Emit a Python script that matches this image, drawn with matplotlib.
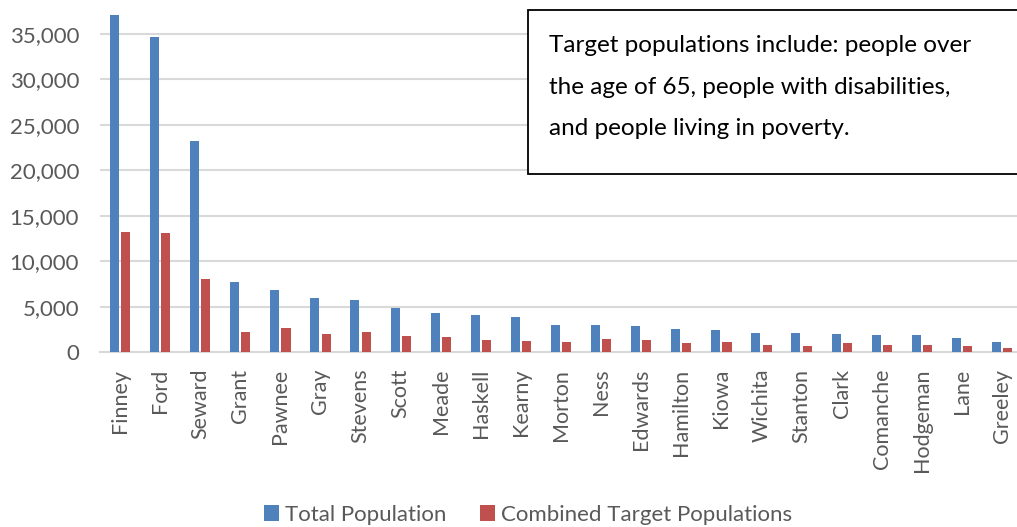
import numpy as np
import matplotlib
matplotlib.use("Agg")
import matplotlib.pyplot as plt
from matplotlib.ticker import FuncFormatter
from matplotlib.patches import Rectangle

counties = ["Finney", "Ford", "Seward", "Grant", "Pawnee", "Gray", "Stevens", "Scott",
            "Meade", "Haskell", "Kearny", "Morton", "Ness", "Edwards", "Hamilton", "Kiowa",
            "Wichita", "Stanton", "Clark", "Comanche", "Hodgeman", "Lane", "Greeley"]
total_pop = [37100, 34650, 23210, 7730, 6820, 5970, 5720, 4840, 4290, 4030, 3850, 3000,
             2970, 2860, 2490, 2450, 2120, 2090, 2010, 1900, 1830, 1570, 1130]
target_pop = [13200, 13090, 8060, 2200, 2600, 2010, 2230, 1720, 1610, 1350, 1240, 1100,
              1460, 1320, 950, 1130, 770, 620, 950, 800, 730, 660, 440]

plt.rcParams['font.family'] = ['Lato', 'DejaVu Sans']

blue = '#4f81bd'
red = '#c0504d'
grey_txt = '#595959'

fig = plt.figure(figsize=(10.17, 5.27), dpi=100)
ax = fig.add_axes([0.0983, 0.332, 0.9067, 0.668])

x = np.arange(len(counties))
w = 0.225
ax.bar(x - 0.14, total_pop, w, color=blue, label='Total Population', zorder=3)
ax.bar(x + 0.14, target_pop, w, color=red, label='Combined Target Populations', zorder=3)

ax.set_xlim(-0.5, len(counties) - 0.5)
ax.set_ylim(0, 38750)
ax.set_yticks(np.arange(0, 35001, 5000))
ax.yaxis.set_major_formatter(FuncFormatter(lambda v, p: f"{int(v):,}"))
ax.grid(axis='y', color='#d9d9d9', linewidth=1.5, zorder=0)
for s in ['top', 'right', 'left']:
    ax.spines[s].set_visible(False)
ax.spines['bottom'].set_color('#d9d9d9')
ax.spines['bottom'].set_linewidth(1.5)
ax.tick_params(axis='both', length=0, colors=grey_txt)
ax.tick_params(axis='y', pad=15, labelsize=16)
ax.tick_params(axis='x', pad=12, labelsize=15.5)
ax.set_xticks(x)
ax.set_xticklabels(counties, rotation=90)

fig.legend(loc='center', bbox_to_anchor=(0.519, 0.023), ncol=2, frameon=False,
           fontsize=16, handlelength=0.7, handleheight=0.7, handletextpad=0.25,
           columnspacing=1.5, labelcolor=grey_txt)

fig.patches.append(Rectangle((528 / 1017, 1 - 174 / 527), 0.6, 164 / 527,
                             transform=fig.transFigure, facecolor='white',
                             edgecolor='black', linewidth=1.3, zorder=5))
fig.text(549 / 1017, 1 - 35 / 527,
         "Target populations include: people over\nthe age of 65, people with disabilities,\nand people living in poverty.",
         ha='left', va='top', fontsize=17.5, linespacing=2.22, color='black', zorder=6)

fig.savefig("out.png", dpi=100)
